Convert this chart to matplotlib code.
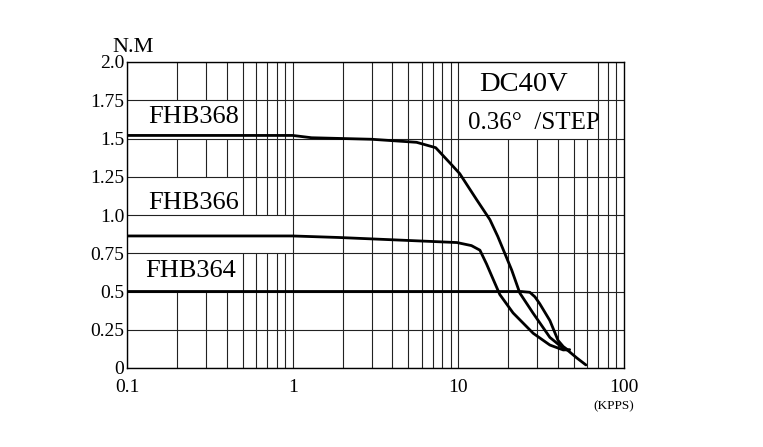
import numpy as np
import matplotlib
matplotlib.use("Agg")
import matplotlib.pyplot as plt
from matplotlib.patches import Rectangle

plt.rcParams['font.family'] = ['Liberation Serif', 'DejaVu Serif']

# ---- data (speed in KPPS, torque in N.M) ----
fhb368_x = [0.1, 1.0, 1.3, 3.0, 5.6, 7.3, 8.9, 10.2, 12.9, 15.5, 17.3, 21.0, 23.5, 28.2, 35.7, 42.8, 45.8, 52.0, 58.9]
fhb368_y = [1.52, 1.52, 1.505, 1.495, 1.475, 1.44, 1.34, 1.27, 1.10, 0.97, 0.86, 0.64, 0.49, 0.36, 0.20, 0.13, 0.115, 0.065, 0.02]

fhb366_x = [0.1, 1.0, 1.9, 9.8, 12.0, 13.5, 14.8, 16.3, 17.8, 21.4, 28.3, 35.7, 43.0, 47.0]
fhb366_y = [0.863, 0.863, 0.853, 0.82, 0.80, 0.77, 0.68, 0.575, 0.48, 0.36, 0.227, 0.15, 0.118, 0.12]

fhb364_x = [0.1, 24.0, 27.0, 29.0, 31.0, 35.7, 40.0, 43.0, 45.8]
fhb364_y = [0.5, 0.5, 0.495, 0.465, 0.42, 0.31, 0.18, 0.14, 0.118]

series_names = ["FHB368", "FHB366", "FHB364"]
y_ticks = [0, 0.25, 0.5, 0.75, 1.0, 1.25, 1.5, 1.75, 2.0]
y_tick_labels = ["0", "0.25", "0.5", "0.75", "1.0", "1.25", "1.5", "1.75", "2.0"]
x_ticks = [0.1, 1, 10, 100]
x_tick_labels = ["0.1", "1", "10", "100"]

fig = plt.figure(figsize=(7.63, 4.47), dpi=100)
ax = fig.add_axes([127/763, 1 - 368/447, (624-127)/763, (368-62)/447])
ax.set_xscale('log')
ax.set_xlim(0.1, 100)
ax.set_ylim(0, 2.0)

gc = '#222222'
# vertical grid lines (log decades with minor lines)
for dec in [0.1, 1, 10]:
    for m in range(1, 10):
        ax.axvline(dec * m, color=gc, lw=0.8, zorder=1)

# white label areas covering vertical grid lines
for (x0, x1, y0, y1) in [(0.1, 0.47, 1.5, 1.75), (0.1, 0.47, 1.0, 1.25),
                         (0.1, 0.98, 0.75, 1.0), (0.1, 0.47, 0.5, 0.75),
                         (10.4, 66, 1.5, 2.0)]:
    ax.add_patch(Rectangle((x0, y0), x1 - x0, y1 - y0, facecolor='white',
                           edgecolor='none', zorder=1.5))

for yv in y_ticks:
    ax.axhline(yv, color=gc, lw=0.8, zorder=2)

lk = dict(color='black', lw=2.0, solid_joinstyle='round', solid_capstyle='round', zorder=3)
ax.plot(fhb368_x, fhb368_y, **lk)
ax.plot(fhb366_x, fhb366_y, **lk)
ax.plot(fhb364_x, fhb364_y, **lk)

ax.set_yticks(y_ticks)
ax.set_yticklabels(y_tick_labels)
ax.set_xticks(x_ticks)
ax.set_xticklabels(x_tick_labels)
ax.xaxis.set_minor_locator(matplotlib.ticker.NullLocator())
ax.tick_params(axis='both', length=0, labelsize=14)
ax.tick_params(axis='y', pad=2)
ax.tick_params(axis='x', pad=8)
for s in ax.spines.values():
    s.set_color('black')
    s.set_linewidth(1.0)

# labels
ax.text(0.134, 1.64, series_names[0], fontsize=19, va='center', ha='left', zorder=4)
ax.text(0.134, 1.078, series_names[1], fontsize=19, va='center', ha='left', zorder=4)
ax.text(0.129, 0.637, series_names[2], fontsize=19, va='center', ha='left', zorder=4)
ax.text(24.9, 1.85, "DC40V", fontsize=20.5, va='center', ha='center', zorder=4)
ax.text(28.6, 1.60, "0.36°  /STEP", fontsize=18, va='center', ha='center', zorder=4)

fig.text(133/763, 1 - 48/447, "N.M", fontsize=16, ha='center', va='center')
fig.text(614/763, 1 - 406/447, "(KPPS)", fontsize=9.5, ha='center', va='center')

fig.savefig("out.png", dpi=100)
